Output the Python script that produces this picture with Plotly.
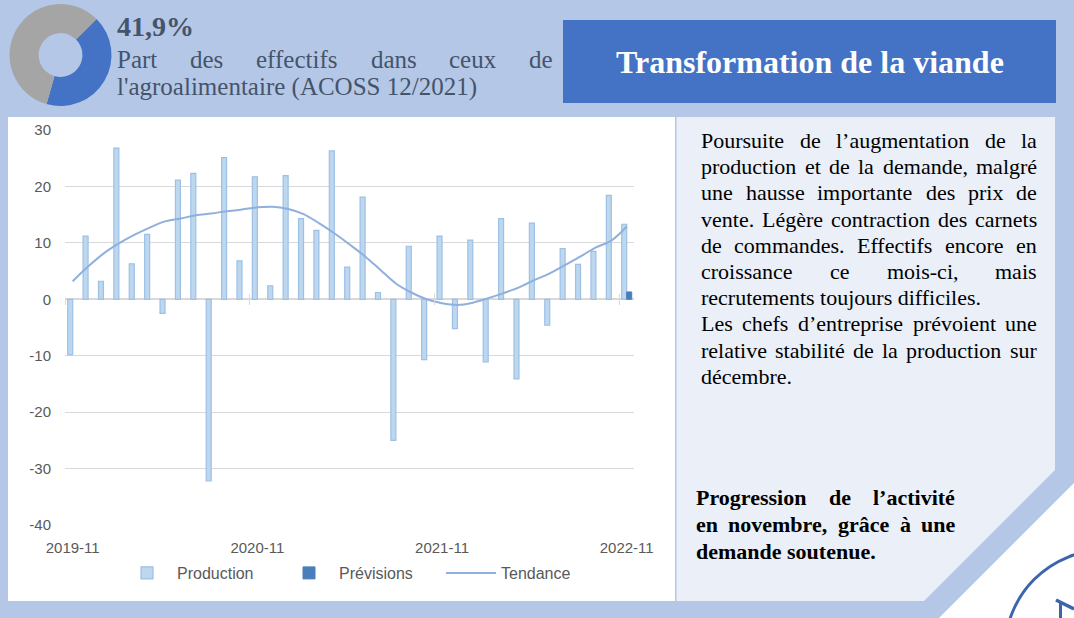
import plotly.graph_objects as go
import pandas as pd

W, H = 1074, 618

# ---------------- data ----------------
months = pd.date_range("2019-11-01", periods=37, freq="MS").strftime("%Y-%m").tolist()
tick_labels = ["2019-11", "2020-11", "2021-11", "2022-11"]
production = [-9.8, 11.2, 3.2, 26.8, 6.3, 11.5, -2.5, 21.1, 22.3, -32.2,
              25.1, 6.8, 21.7, 2.4, 21.9, 14.3, 12.2, 26.3, 5.7, 18.1,
              1.2, -25.0, 9.4, -10.7, 11.2, -5.2, 10.5, -11.1, 14.3, -14.1,
              13.5, -4.6, 9.0, 6.2, 8.5, 18.4, 13.3]
tendance = [3.2, 5.8, 8.1, 9.9, 11.4, 12.7, 13.8, 14.3, 14.9, 15.2,
            15.6, 15.9, 16.3, 16.4, 16.0, 15.1, 13.5, 11.7, 9.7, 7.6,
            5.2, 2.8, 1.2, 0.0, -0.7, -1.0, -0.6, 0.2, 1.1, 2.1,
            3.4, 4.6, 6.1, 7.6, 9.2, 10.4, 12.9]
prevision_months = ["2022-11"]
previsions = [1.3]
y_ticks = [-40, -30, -20, -10, 0, 10, 20, 30]
y_range = [-40, 30]
donut_labels = ["Transformation de la viande", "Reste de l'agroalimentaire"]
donut_values = [41.9, 58.1]

header_value = "41,9%"
header_lines = ["Part des effectifs dans ceux de", "l'agroalimentaire (ACOSS 12/2021)"]
title_text = "Transformation de la viande"
comment_lines = [
    ("Poursuite de l’augmentation de la", True),
    ("production et de la demande, malgré", True),
    ("une hausse importante des prix de", True),
    ("vente. Légère contraction des carnets", True),
    ("de commandes. Effectifs encore en", True),
    ("croissance ce mois-ci, mais", True),
    ("recrutements toujours difficiles.", False),
    ("Les chefs d’entreprise prévoient une", True),
    ("relative stabilité de la production sur", True),
    ("décembre.", False),
]
summary_lines = [
    ("Progression de l’activité", True),
    ("en novembre, grâce à une", True),
    ("demande soutenue.", False),
]

# ---------------- helpers ----------------
def px(x):
    return x / W


def py(y):
    return 1 - y / H


SANS = "Liberation Sans, Arial, sans-serif"
SERIF = "Liberation Serif, Times New Roman, serif"

REG = {" ": 250, "a": 444, "b": 500, "c": 444, "d": 500, "e": 444, "f": 333, "g": 500,
       "h": 500, "i": 278, "j": 278, "k": 500, "l": 278, "m": 778, "n": 500, "o": 500,
       "p": 500, "q": 500, "r": 333, "s": 389, "t": 278, "u": 500, "v": 500, "w": 722,
       "x": 500, "y": 500, "z": 444, "A": 722, "B": 667, "C": 667, "D": 722, "E": 611,
       "L": 611, "M": 889, "O": 722, "P": 556, "S": 556, "T": 611, ",": 250, ".": 250,
       "-": 333, "'": 180, "’": 333, "(": 333, ")": 333, "/": 278, "%": 833,
       "é": 444, "è": 444, "ê": 444, "à": 444, "â": 444, "î": 278, "ô": 500, "û": 500}
BOLD = {" ": 250, "a": 500, "b": 556, "c": 444, "d": 556, "e": 444, "f": 333, "g": 500,
        "h": 556, "i": 278, "j": 333, "k": 556, "l": 278, "m": 833, "n": 556, "o": 500,
        "p": 556, "q": 556, "r": 444, "s": 389, "t": 333, "u": 556, "v": 500, "w": 722,
        "x": 500, "y": 500, "z": 444, "P": 611, "T": 667, ",": 250, ".": 250, "’": 333,
        "%": 1000, "é": 444, "è": 444, "à": 500, "â": 500}


def text_width(s, size, bold):
    table = BOLD if bold else REG
    return sum(table.get(ch, 500) for ch in s) * size / 1000.0


annotations = []


def add_text_line(line, x0, x1, yc, size, bold, color, justify):
    words = line.split(" ")
    fmt = (lambda s: "<b>" + s + "</b>") if bold else (lambda s: s)
    if justify and len(words) > 1:
        widths = [text_width(w, size, bold) for w in words]
        gap = (x1 - x0 - sum(widths)) / (len(words) - 1)
        x = x0
        for w, wd in zip(words, widths):
            annotations.append(dict(x=px(x), y=py(yc), xref="paper", yref="paper",
                                    text=fmt(w), showarrow=False, xanchor="left",
                                    yanchor="middle", borderpad=0,
                                    font=dict(family=SERIF, size=size, color=color)))
            x += wd + gap
    else:
        annotations.append(dict(x=px(x0), y=py(yc), xref="paper", yref="paper",
                                text=fmt(line), showarrow=False, xanchor="left",
                                yanchor="middle", borderpad=0,
                                font=dict(family=SERIF, size=size, color=color)))


# ---------------- figure ----------------
fig = go.Figure()

fig.add_trace(go.Bar(
    name="Production", x=months, y=production,
    marker=dict(color="#BDD7EE", line=dict(color="#9DC0E6", width=1.2)),
    hoverinfo="x+y",
))
fig.add_trace(go.Bar(
    name="Prévisions", x=prevision_months, y=previsions,
    marker=dict(color="#4A7EBB", line=dict(color="#4A7EBB", width=1)),
    hoverinfo="x+y",
))
fig.add_trace(go.Scatter(
    name="Tendance", x=months, y=tendance, mode="lines",
    line=dict(color="#8FB0DD", width=2, shape="spline", smoothing=1.0),
    hoverinfo="x+y",
))

boundaries = [months.index(t) - 0.5 for t in tick_labels]
n_cat = len(months)
x_dom = [px(65), px(634.4)]
y_dom = [py(525), py(130)]
zero_pos = y_dom[0] + (0 - y_range[0]) / (y_range[1] - y_range[0]) * (y_dom[1] - y_dom[0])

# helper traces so that the tick-mark axes at zero are rendered
for ax in ("x2", "x3"):
    fig.add_trace(go.Scatter(x=[boundaries[0]], y=[0], xaxis=ax, yaxis="y",
                             mode="markers", marker=dict(opacity=0),
                             showlegend=False, hoverinfo="skip"))

fig.add_trace(go.Pie(
    labels=donut_labels, values=donut_values, hole=0.43, sort=False,
    direction="clockwise", rotation=45, textinfo="none", hoverinfo="label+value",
    marker=dict(colors=["#4472C4", "#A5A5A5"], line=dict(width=0)),
    domain=dict(x=[px(9.3), px(111.7)], y=[py(106), py(4)]),
    showlegend=False, automargin=False,
))

# ---------------- text ----------------
annotations.append(dict(x=px(116), y=py(27), xref="paper", yref="paper",
                        text="<b>" + header_value + "</b>", showarrow=False,
                        xanchor="left", yanchor="middle", borderpad=0,
                        font=dict(family=SERIF, size=28, color="#44546A")))
add_text_line(header_lines[0], 116, 552, 60, 25, False, "#44546A", True)
add_text_line(header_lines[1], 116, 552, 87, 25, False, "#44546A", False)

annotations.append(dict(x=px(809.5), y=py(62), xref="paper", yref="paper",
                        text="<b>" + title_text + "</b>", showarrow=False,
                        xanchor="center", yanchor="middle",
                        font=dict(family=SERIF, size=32, color="#FFFFFF")))

for k, (line, just) in enumerate(comment_lines):
    add_text_line(line, 700, 1036, 141 + 26.2 * k - 0.5, 22, False, "#000000", just)

for k, (line, just) in enumerate(summary_lines):
    add_text_line(line, 695, 954, 497 + 27.4 * k, 22, True, "#000000", just)

# ---------------- decoration ----------------
shapes = [
    dict(type="rect", xref="paper", yref="paper", x0=px(8), x1=px(675),
         y0=py(601), y1=py(117), fillcolor="#FFFFFF", line=dict(width=0), layer="below"),
    dict(type="path", xref="paper", yref="paper",
         path=(f"M {px(676.5)},{py(117)} L {px(1055)},{py(117)} L {px(1055)},{py(470)} "
               f"L {px(924)},{py(601)} L {px(676.5)},{py(601)} Z"),
         fillcolor="#EAEFF8", line=dict(width=0), layer="below"),
    dict(type="rect", xref="paper", yref="paper", x0=px(563), x1=px(1056),
         y0=py(103), y1=py(20), fillcolor="#4472C4", line=dict(width=0), layer="below"),
    dict(type="path", xref="paper", yref="paper",
         path=(f"M {px(1076)},{py(481)} L {px(937)},{py(620)} L {px(1076)},{py(620)} Z"),
         fillcolor="#FFFFFF", line=dict(width=0), layer="below"),
    dict(type="circle", xref="paper", yref="paper", x0=px(1005), x1=px(1205),
         y0=py(750), y1=py(550), line=dict(color="#3C65AE", width=3)),
    dict(type="line", xref="paper", yref="paper", x0=px(1056), y0=py(600),
         x1=px(1074), y1=py(609), line=dict(color="#3C65AE", width=3.5)),
    dict(type="line", xref="paper", yref="paper", x0=px(1060.5), y0=py(602),
         x1=px(1060.5), y1=py(619), line=dict(color="#3C65AE", width=3)),
]

tick_font = dict(family=SANS, size=15, color="#595959")

fig.update_layout(
    width=W, height=H, autosize=False,
    margin=dict(l=0, r=0, t=0, b=0, pad=0, autoexpand=False),
    paper_bgcolor="#B4C7E7", plot_bgcolor="rgba(0,0,0,0)",
    barmode="group", bargap=0.35, bargroupgap=0.0,
    showlegend=True,
    legend=dict(orientation="h", x=px(117), xanchor="left", y=py(573), yanchor="middle",
                font=dict(family=SANS, size=16, color="#595959"),
                bgcolor="rgba(0,0,0,0)", itemwidth=50,
                entrywidth=97, entrywidthmode="pixels", traceorder="normal"),
    xaxis=dict(type="category", domain=x_dom, range=[-0.5, n_cat - 0.5],
               tickmode="array", tickvals=tick_labels, ticktext=tick_labels,
               ticks="", showgrid=False, showline=False, zeroline=False,
               tickfont=tick_font, ticklabelstandoff=12, fixedrange=True,
               automargin=False),
    xaxis2=dict(overlaying="x", anchor="free", position=zero_pos, domain=x_dom,
                range=[-0.5, n_cat - 0.5], tickmode="array", tickvals=boundaries,
                ticks="outside", ticklen=5, tickwidth=1.3, tickcolor="#D9D9D9",
                showticklabels=False, showgrid=False, showline=False, zeroline=False,
                fixedrange=True, automargin=False),
    xaxis3=dict(overlaying="x", anchor="free", position=zero_pos, domain=x_dom,
                range=[-0.5, n_cat - 0.5], tickmode="array", tickvals=boundaries,
                ticks="inside", ticklen=5, tickwidth=1.3, tickcolor="#D9D9D9",
                showticklabels=False, showgrid=False, showline=False, zeroline=False,
                fixedrange=True, automargin=False),
    yaxis=dict(domain=y_dom, range=y_range, tickmode="array", tickvals=y_ticks,
               ticktext=[str(v) for v in y_ticks],
               ticks="", showgrid=True, gridcolor="#D9D9D9", gridwidth=1.3,
               zeroline=True, zerolinecolor="#D9D9D9", zerolinewidth=1.6,
               showline=False, tickfont=tick_font, ticklabelstandoff=13,
               fixedrange=True, automargin=False),
    annotations=annotations,
    shapes=shapes,
)

fig.write_html(
    "out.html",
    config={"displayModeBar": False},
    post_script="document.body.style.margin='0';document.body.style.overflow='hidden';",
)
